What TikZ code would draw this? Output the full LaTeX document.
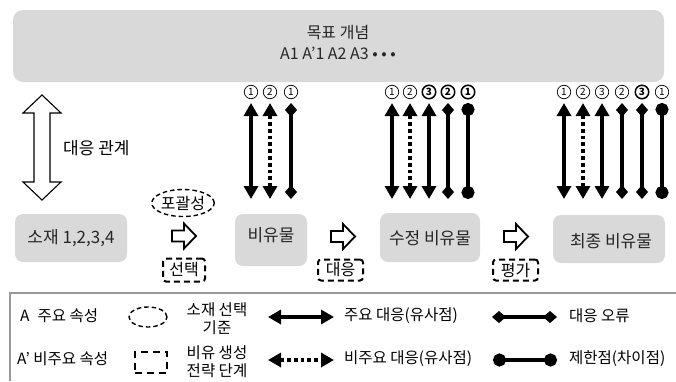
\documentclass[tikz,border=0pt]{standalone}
\usepackage{fontspec}
\setmainfont{Noto Sans CJK KR}
\usetikzlibrary{arrows.meta,shapes.geometric}
\begin{document}
\begin{tikzpicture}[x=1pt,y=-1pt,
  box/.style={fill=gray!30, rounded corners=8pt, inner sep=0pt},
  boxtxt/.style={text=black!85, font=\fontsize{17}{21}\selectfont, inner sep=0pt},
  legtxt/.style={text=black, font=\fontsize{15.5}{18}\selectfont, inner sep=0pt},
  mainarr/.style={line width=3.8pt, {Triangle[width=14pt,length=13pt]}-{Triangle[width=14pt,length=13pt]}},
  minorarr/.style={mainarr, dash pattern=on 3.8pt off 3pt},
  errline/.style={line width=3.2pt, {Diamond[width=12pt,length=14pt]}-{Diamond[width=12pt,length=14pt]}},
  limline/.style={line width=3.2pt, {Circle[length=13pt]}-{Circle[length=13pt]}},
  numr/.style={circle, draw, line width=0.7pt, minimum size=13.5pt, inner sep=0pt, font=\fontsize{10}{10}\selectfont},
  numb/.style={numr, line width=1.5pt, font=\fontsize{10}{10}\selectfont\bfseries},
  hollow/.style={draw=black, fill=white, line width=1.8pt, line join=miter},
  crit/.style={draw, line width=1.4pt, dash pattern=on 4.5pt off 3pt},
  stage/.style={draw, line width=2pt, dash pattern=on 6pt off 4pt, rounded corners=3pt},
  legline/.style={draw=gray!80, line width=1.2pt},
  hollowr/.pic={\draw[hollow] (-12,-5.5) -- (0,-5.5) -- (0,-12.5) -- (12,0) -- (0,12.5) -- (0,5.5) -- (-12,5.5) -- cycle;}
]
\useasboundingbox (0,0) rectangle (676,381);

% goal box
\node[box, rounded corners=10pt, minimum width=651pt, minimum height=72pt] (goal) at (338.5,46) {};
\node[boxtxt, align=center, font=\fontsize{16}{21}\selectfont] (goaltxt) at (338,42) {목표 개념\\A1 A’1 A2 A3 • • •};

% vertical hollow double arrow
\draw[hollow, line width=1.1pt] (42,95) -- (61,113) -- (50,113) -- (50,182) -- (61,182) -- (42,200)
  -- (23,182) -- (34,182) -- (34,113) -- (23,113) -- cycle;
\node[boxtxt, text=black, anchor=west] (rel) at (63,148) {대응 관계};

% stage boxes
\node[box, minimum width=112pt, minimum height=48pt] (src) at (71,238) {};
\node[boxtxt] (srct) at (71,238) {소재 1,2,3,4};
\node[box, minimum width=72pt, minimum height=52pt] (met) at (271,240) {};
\node[boxtxt] (mett) at (271,235) {비유물};
\node[box, minimum width=100pt, minimum height=49pt] (rev) at (430,237.5) {};
\node[boxtxt] (revt) at (430,238) {수정 비유물};
\node[box, minimum width=112pt, minimum height=48pt] (fin) at (609,239) {};
\node[boxtxt] (fint) at (611,241) {최종 비유물};

% hollow right arrows
\pic (ar1) at (184,236) {hollowr};
\pic (ar2) at (343,236.5) {hollowr};
\pic (ar3) at (516,236.5) {hollowr};

% criteria and stage labels
\node[crit, ellipse, minimum width=60pt, minimum height=27pt, inner sep=0pt, font=\fontsize{16}{18}\selectfont] (incl) at (183,203) {포괄성};
\node[stage, minimum width=42pt, minimum height=23pt, inner sep=0pt, font=\fontsize{16}{18}\selectfont] (sel) at (184,270) {선택};
\node[stage, minimum width=45pt, minimum height=21pt, inner sep=0pt, font=\fontsize{16}{18}\selectfont] (cor) at (340.5,270) {대응};
\node[stage, minimum width=45pt, minimum height=21pt, inner sep=0pt, font=\fontsize{16}{18}\selectfont] (eva) at (515.5,270) {평가};

% vertical correspondence arrows
\foreach \n/\x/\s in {a/251/mainarr, b/270/minorarr, c/291/errline,
  d/392/mainarr, e/410/minorarr, f/429/mainarr, g/448/errline, h/468/limline,
  i/564/mainarr, j/583/minorarr, k/602/mainarr, l/622/errline, m/642/errline, n/662/limline}{
  \coordinate (\n t) at (\x,103);
  \coordinate (\n b) at (\x,199);
  \draw[\s] (\n t) -- (\n b);
}

% circled numbers
\foreach \n/\x/\d/\s in {a/251/1/numr, b/270/2/numr, c/291/1/numr,
  d/392/1/numr, e/410/2/numr, f/429/3/numb, g/448/2/numb, h/468/1/numb,
  i/564/1/numr, j/583/2/numr, k/602/3/numr, l/622/2/numr, m/642/3/numb, n/662/1/numr}{
  \node[\s] (c\n) at (\x,92) {\d};
}

% legend frame
\coordinate (lgTR) at (676,293);
\coordinate (lgBL) at (10,381);
\draw[legline] (lgTR) -| (lgBL);

% legend row 1
\node[legtxt, anchor=west] (l1) at (20,316) {A\hspace{8pt}주요 속성};
\node[crit, ellipse, minimum width=38pt, minimum height=20pt, inner sep=0pt] (lell) at (148,317) {};
\node[legtxt, align=center] (l2) at (217,318.5) {소재 선택\\기준};
\coordinate (lma) at (268,317);
\coordinate (lmb) at (334,317);
\draw[mainarr] (lma) -- (lmb);
\node[legtxt, anchor=west] (l3) at (344,316) {주요 대응(유사점)};
\coordinate (lea) at (492,317);
\coordinate (leb) at (557,317);
\draw[errline] (lea) -- (leb);
\node[legtxt, anchor=west] (l4) at (569,316) {대응 오류};

% legend row 2
\node[legtxt, anchor=west] (l5) at (17,359) {A’ 비주요 속성};
\node[stage, rounded corners=0pt, dash pattern=on 7pt off 5pt, minimum width=32pt, minimum height=21pt, inner sep=0pt] (lrect) at (151,362.5) {};
\node[legtxt, align=center] (l6) at (217,361.5) {비유 생성\\전략 단계};
\coordinate (lna) at (268,360);
\coordinate (lnb) at (334,360);
\draw[minorarr] (lna) -- (lnb);
\node[legtxt, anchor=west] (l7) at (344,359) {비주요 대응(유사점)};
\coordinate (lla) at (493,360);
\coordinate (llb) at (557,360);
\draw[limline] (lla) -- (llb);
\node[legtxt, anchor=west] (l8) at (569,359) {제한점(차이점)};
\end{tikzpicture}
\end{document}
